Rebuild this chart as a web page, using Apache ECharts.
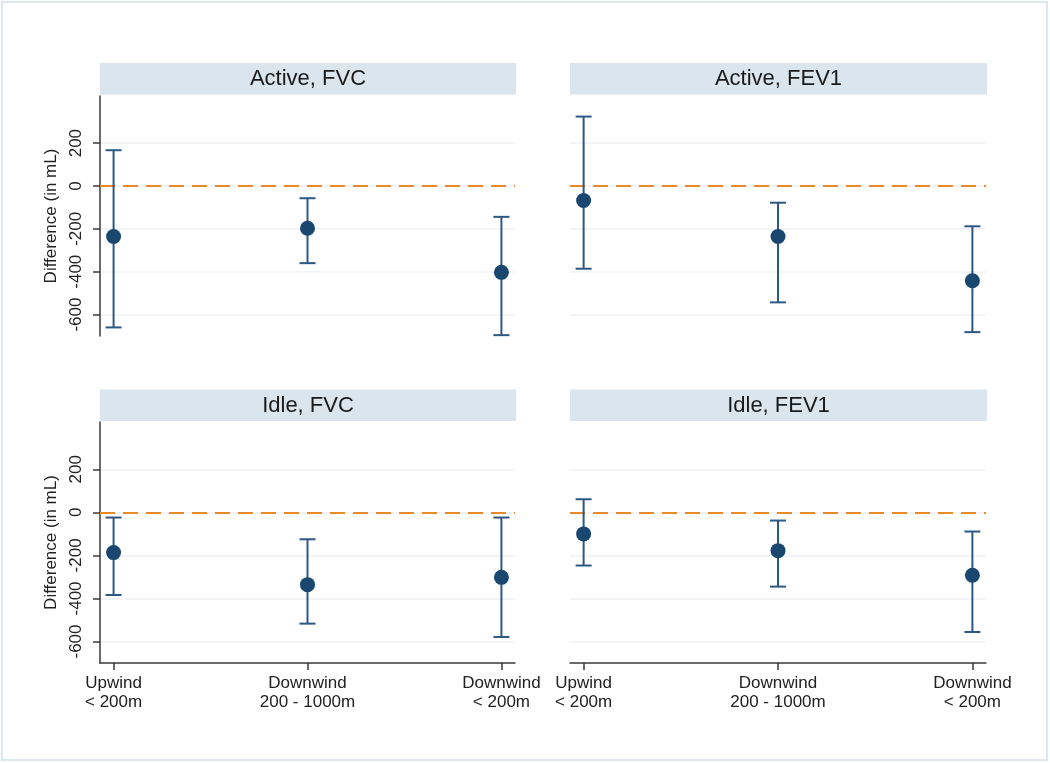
<!DOCTYPE html>
<html>
<head>
<meta charset="utf-8">
<script src="https://cdn.jsdelivr.net/npm/echarts@6/dist/echarts.min.js"></script>
<style>
  html, body { margin: 0; padding: 0; background: #fff; }
  #chart { width: 1050px; height: 763px; }
</style>
</head>
<body>
<div id="chart"></div>
<script>
const categories = ["Upwind\n< 200m", "Downwind\n200 - 1000m", "Downwind\n< 200m"];
const catPos = [1, 2, 3];
const panelTitles = ["Active, FVC", "Active, FEV1", "Idle, FVC", "Idle, FEV1"];
const yTicks = [-600, -400, -200, 0, 200];

const activeFvcEst = [-236, -197, -403];
const activeFvcLow = [-660, -360, -696];
const activeFvcHigh = [167, -57, -144];

const activeFev1Est = [-68, -236, -442];
const activeFev1Low = [-386, -543, -682];
const activeFev1High = [324, -78, -188];

const idleFvcEst = [-187, -336, -302];
const idleFvcLow = [-384, -517, -579];
const idleFvcHigh = [-24, -125, -24];

const idleFev1Est = [-100, -178, -292];
const idleFev1Low = [-247, -345, -556];
const idleFev1High = [61, -38, -89];

const panels = [
  { est: activeFvcEst, low: activeFvcLow, high: activeFvcHigh },
  { est: activeFev1Est, low: activeFev1Low, high: activeFev1High },
  { est: idleFvcEst, low: idleFvcLow, high: idleFvcHigh },
  { est: idleFev1Est, low: idleFev1Low, high: idleFev1High },
];

const font = "'Liberation Sans', Arial, Helvetica, sans-serif";
const navy = "#1a476f";
const barColor = "#2d5884";
const axisColor = "#3a3a3a";
const gridColor = "#eef1f4";

const gridBoxes = [
  { left: 100, top: 96, width: 415, height: 240 },
  { left: 570, top: 96, width: 416, height: 240 },
  { left: 100, top: 422, width: 415, height: 241 },
  { left: 570, top: 422, width: 416, height: 241 },
];

const chart = echarts.init(document.getElementById("chart"));

function errorBars(params, api) {
  const x = api.value(0);
  const top = api.coord([x, api.value(2)]);
  const bot = api.coord([x, api.value(1)]);
  const w = 8;
  const style = { stroke: barColor, lineWidth: 2 };
  return {
    type: "group",
    children: [
      { type: "line", shape: { x1: top[0], y1: top[1], x2: bot[0], y2: bot[1] }, style },
      { type: "line", shape: { x1: top[0] - w, y1: top[1], x2: top[0] + w, y2: top[1] }, style },
      { type: "line", shape: { x1: bot[0] - w, y1: bot[1], x2: bot[0] + w, y2: bot[1] }, style },
    ],
  };
}

const xAxes = gridBoxes.map((_, i) => {
  const bottom = i >= 2;
  return {
    type: "value",
    gridIndex: i,
    min: 0.93,
    max: 3.07,
    splitLine: { show: false },
    axisLine: { show: bottom, onZero: false, lineStyle: { color: axisColor, width: 1.5 } },
    axisTick: { show: bottom, customValues: catPos, length: 7, lineStyle: { color: axisColor, width: 1.5 } },
    axisLabel: {
      show: bottom,
      customValues: catPos,
      formatter: (v) => categories[Math.round(v) - 1],
      fontFamily: font,
      fontSize: 17,
      color: "#222",
      lineHeight: 19,
      margin: 11,
    },
  };
});

const yAxes = gridBoxes.map((_, i) => {
  const left = i % 2 === 0;
  return {
    type: "value",
    gridIndex: i,
    min: -700,
    max: 420,
    name: left ? "Difference (in mL)" : "",
    nameLocation: "middle",
    nameGap: 40,
    nameTextStyle: { fontFamily: font, fontSize: 17, color: "#222" },
    axisLine: { show: left, lineStyle: { color: axisColor, width: 1.5 } },
    axisTick: { show: left, customValues: yTicks, length: 7, lineStyle: { color: axisColor, width: 1.5 } },
    axisLabel: {
      show: left,
      customValues: yTicks,
      rotate: 90,
      margin: 15,
      fontFamily: font,
      fontSize: 17,
      color: "#222",
    },
    splitLine: { show: true, lineStyle: { color: gridColor, width: 1.5 } },
  };
});

const series = [];
panels.forEach((p, i) => {
  series.push({
    type: "custom",
    xAxisIndex: i,
    yAxisIndex: i,
    z: 3,
    renderItem: errorBars,
    encode: { x: 0, y: [1, 2] },
    data: catPos.map((x, k) => [x, p.low[k], p.high[k]]),
    markLine: {
      z: 1,
      silent: true,
      symbol: "none",
      label: { show: false },
      lineStyle: { color: "#e98a2a", width: 2.2, type: [15, 8] },
      data: [{ yAxis: 0 }],
    },
  });
  series.push({
    type: "scatter",
    xAxisIndex: i,
    yAxisIndex: i,
    z: 4,
    symbol: "circle",
    symbolSize: 15,
    itemStyle: { color: navy, opacity: 1 },
    data: catPos.map((x, k) => [x, p.est[k]]),
  });
});

const headers = [];
gridBoxes.forEach((g, i) => {
  headers.push({
    type: "rect",
    shape: { x: g.left, y: i < 2 ? 63 : 389.5, width: g.width + 1, height: 31.5 },
    style: { fill: "#dae5ee" },
  });
  headers.push({
    type: "text",
    x: g.left + (g.width + 1) / 2,
    y: (i < 2 ? 63 : 389.5) + 16,
    style: {
      text: panelTitles[i],
      font: "22px " + font,
      fill: "#1a1a1a",
      align: "center",
      verticalAlign: "middle",
    },
  });
});

chart.setOption({
  backgroundColor: "#fff",
  animation: false,
  graphic: [
    {
      type: "rect",
      shape: { x: 2, y: 2, width: 1045, height: 758 },
      style: { fill: "none", stroke: "#dde8ee", lineWidth: 2 },
    },
    ...headers,
  ],
  grid: gridBoxes.map((g) => ({ ...g, containLabel: false })),
  xAxis: xAxes,
  yAxis: yAxes,
  series,
});
</script>
</body>
</html>
